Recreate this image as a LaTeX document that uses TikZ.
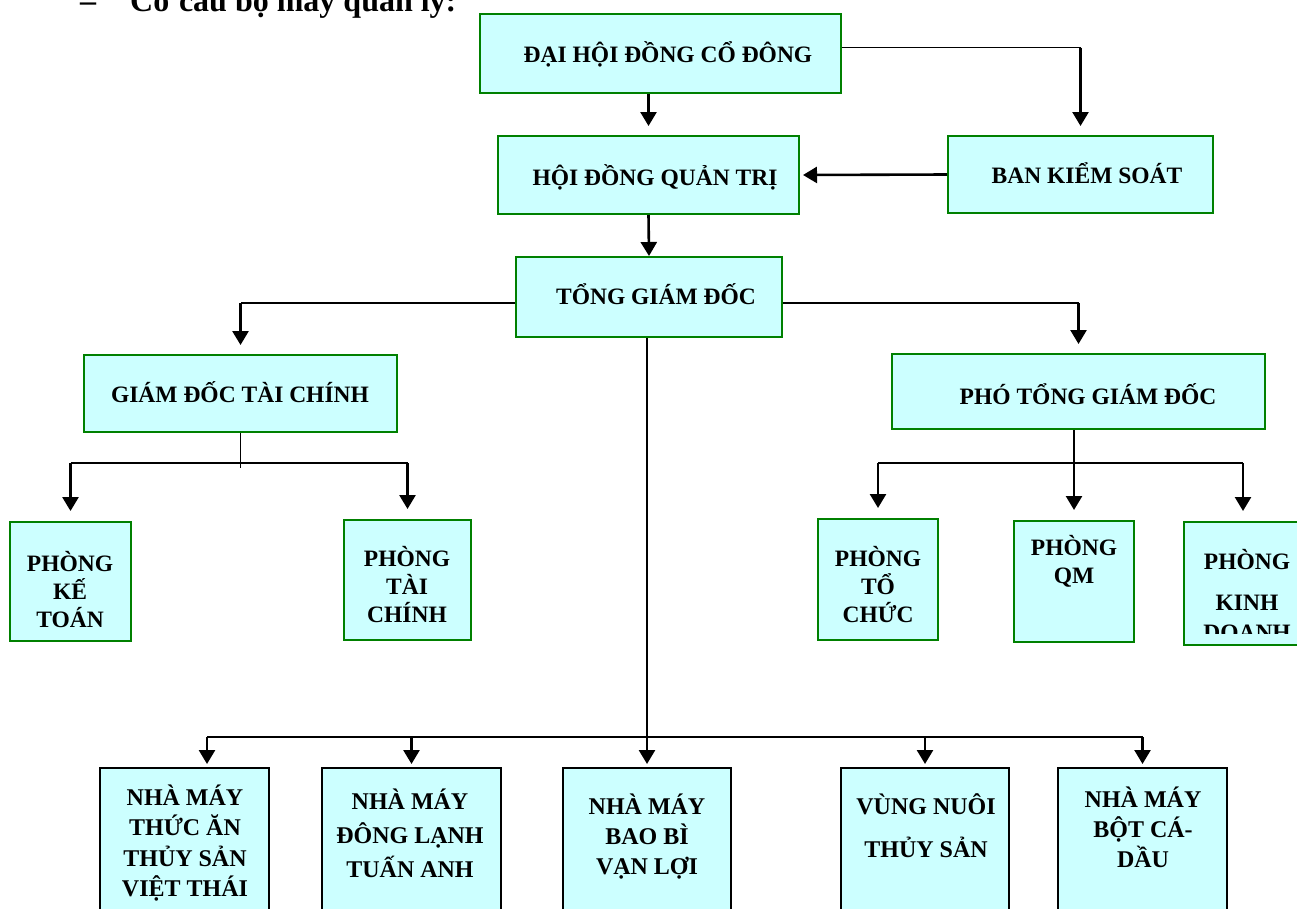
\documentclass[tikz,border=0pt]{standalone}
\usepackage{fontspec}
\setmainfont{Liberation Serif}
\usetikzlibrary{arrows.meta,calc}
\definecolor{boxfill}{RGB}{204,255,255}
\definecolor{boxgreen}{RGB}{0,128,0}
\newcommand\tightlines{\lineskiplimit=-30pt\relax\lineskip=0pt\relax}
\tikzset{
  gbox/.style={draw=boxgreen, fill=boxfill, line width=2pt, inner sep=0pt},
  kbox/.style={draw=black, fill=boxfill, line width=2pt, inner sep=0pt},
  lbl/.style={font={\bfseries\fontsize{23.5}{#1}\selectfont\tightlines}, align=center, anchor=base, inner sep=0pt},
  lbl/.default=28,
  lblb/.style={font={\bfseries\fontsize{24}{#1}\selectfont\tightlines}, align=center, anchor=base, inner sep=0pt},
  lblb/.default=30,
  ln/.style={line width=1.8pt},
  arr/.style={line width=2.6pt, -{Triangle[length=14pt,width=16pt]}},
}
\newcommand\mkbox[6]{\node[#1, minimum width=#5pt-#3pt, minimum height=#6pt-#4pt] (#2) at ({(#3+#5)/2},{(#4+#6)/2}) {};}
\begin{document}
\begin{tikzpicture}[x=1pt,y=-1pt]
\clip (0,0) rectangle (1297,908);
\fill[white] (0,0) rectangle (1297,908);
% title
\node[font=\bfseries\fontsize{32}{38}\selectfont, anchor=base west, inner sep=0pt] (title) at (80,11) {–\hspace{34pt}Cơ cấu bộ máy quản lý:};
% boxes
\mkbox{gbox}{dhd}{480}{14}{841}{93}
\mkbox{gbox}{hdqt}{498}{136}{799}{214}
\mkbox{gbox}{bks}{948}{136}{1213}{213}
\mkbox{gbox}{tgd}{516}{257}{782}{337}
\mkbox{gbox}{gdtc}{84}{355}{397}{432}
\mkbox{gbox}{ptgd}{892}{354}{1265}{429}
\mkbox{gbox}{pkt}{10}{522}{131}{641}
\mkbox{gbox}{ptc}{344}{520}{471}{640}
\mkbox{gbox}{ptch}{818}{519}{938}{640}
\mkbox{gbox}{pqm}{1014}{521}{1134}{642}
\mkbox{gbox}{pkd}{1184}{522}{1302}{645}
\mkbox{kbox}{nm1}{100}{768}{269}{940}
\mkbox{kbox}{nm2}{322}{768}{501}{940}
\mkbox{kbox}{nm3}{563}{768}{731}{940}
\mkbox{kbox}{nm4}{841}{768}{1009}{940}
\mkbox{kbox}{nm5}{1058}{768}{1227}{940}
% labels (anchor = baseline of the last line)
\node[lbl] (l-dhd) at (668,62) {ĐẠI HỘI ĐỒNG CỔ ĐÔNG};
\node[lbl] (l-hdqt) at (655,185) {HỘI ĐỒNG QUẢN TRỊ};
\node[lbl] (l-bks) at (1087,183) {BAN KIỂM SOÁT};
\node[lbl] (l-tgd) at (656,304) {TỔNG GIÁM ĐỐC};
\node[lbl] (l-gdtc) at (240,402) {GIÁM ĐỐC TÀI CHÍNH};
\node[lbl] (l-ptgd) at (1088,404) {PHÓ TỔNG GIÁM ĐỐC};
\node[lbl] (l-pkt) at (70,627) {PHÒNG\\KẾ\\TOÁN};
\node[lbl] (l-ptc) at (407,622) {PHÒNG\\TÀI\\CHÍNH};
\node[lbl] (l-ptch) at (878,622) {PHÒNG\\TỔ\\CHỨC};
\node[lbl] (l-pqm) at (1074,583) {PHÒNG\\QM};
\begin{scope}
  \clip (1185,523) rectangle (1297,633);
  \node[lbl=30] (l-pkd) at (1247,640) {PHÒNG\\[11pt]KINH\\DOANH};
\end{scope}
\node[lblb=30.5] (l-nm1) at (185,896.5) {NHÀ MÁY\\THỨC ĂN\\THỦY SẢN\\VIỆT THÁI};
\node[lblb=34] (l-nm2) at (410,877) {NHÀ MÁY\\ĐÔNG LẠNH\\TUẤN ANH};
\node[lblb=30] (l-nm3) at (647,874) {NHÀ MÁY\\BAO BÌ\\VẠN LỢI};
\node[lblb=43] (l-nm4) at (926,857) {VÙNG NUÔI\\THỦY SẢN};
\node[lblb=30] (l-nm5) at (1143,867) {NHÀ MÁY\\BỘT CÁ-\\DẦU};
% connectors top
\draw[arr, shorten >=9pt] (dhd.south -| hdqt.north) -- (hdqt.north);
\path ([yshift=6pt]dhd.east) coordinate (d1);
\draw[ln] (d1) -- (d1 -| bks.north) coordinate (d2);
\draw[arr, shorten >=9pt] (d2) -- (bks.north);
\draw[arr, shorten >=3pt] (bks.west) -- (hdqt.east);
\draw[arr] (hdqt.south) -- (tgd.north);
% TGD branches
\path ([yshift=-6pt]tgd.west) coordinate (t1) ([yshift=-6pt]tgd.east) coordinate (t2);
\draw[ln] (t1) -- (t1 -| gdtc.north) coordinate (t3);
\draw[arr, shorten >=9pt] (t3) -- (gdtc.north);
\draw[ln] (t2) -- (t2 -| ptgd.north) coordinate (t4);
\draw[arr, shorten >=9pt] (t4) -- (ptgd.north);
% bottom bus
\coordinate (by) at (0,737);
\coordinate (b1) at (207,737);
\draw[ln] (tgd.south -| nm3.north) -- (by -| nm3.north);
\draw[ln] (b1) -- (by -| nm5.north);
\draw[arr, shorten >=3pt] (b1) -- (b1 |- nm1.north);
\draw[arr, shorten >=3pt] (by -| nm2.north) -- (nm2.north);
\draw[arr, shorten >=3pt] (by -| nm3.north) -- (nm3.north);
\draw[arr, shorten >=3pt] (by -| nm4.north) -- (nm4.north);
\draw[arr, shorten >=3pt] (by -| nm5.north) -- (nm5.north);
% GDTC branch
\coordinate (gy) at (0,463);
\draw[ln] (gdtc.south) -- ($(gdtc.south |- gy)+(0,5)$);
\draw[ln] (gy -| pkt.north) -- (gy -| ptc.north);
\draw[arr, shorten >=10pt] (gy -| pkt.north) -- (pkt.north);
\draw[arr, shorten >=10pt] (gy -| ptc.north) -- (ptc.north);
% PTGD branch
\draw[ln] (ptgd.south -| pqm.north) -- (gy -| pqm.north);
\draw[ln] (gy -| ptch.north) -- (gy -| pkd.north);
\draw[arr, shorten >=10pt] (gy -| ptch.north) -- (ptch.north);
\draw[arr, shorten >=10pt] (gy -| pqm.north) -- (pqm.north);
\draw[arr, shorten >=10pt] (gy -| pkd.north) -- (pkd.north);
\end{tikzpicture}
\end{document}
